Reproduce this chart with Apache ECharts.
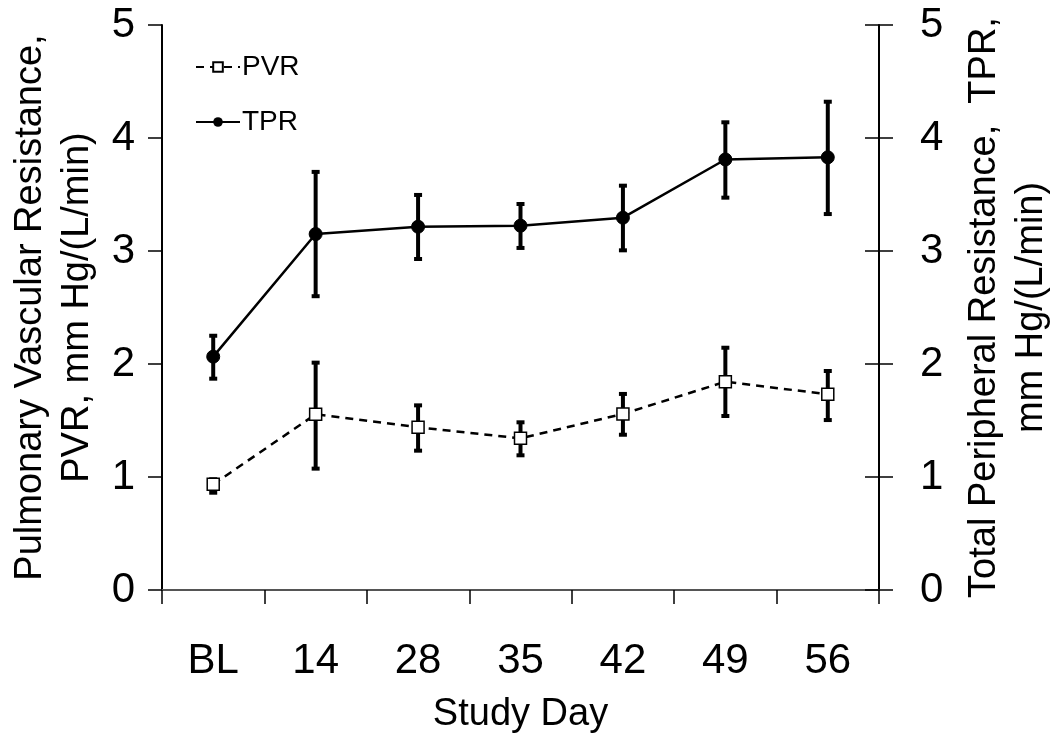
<!DOCTYPE html>
<html>
<head>
<meta charset="utf-8">
<script src="https://cdn.jsdelivr.net/npm/echarts@6/dist/echarts.min.js"></script>
<style>html,body{margin:0;padding:0;background:#fff}#c{width:1050px;height:739px}</style>
</head>
<body>
<div id="c"></div>
<script>
const categories = ['BL', '14', '28', '35', '42', '49', '56'];
const pvrMean = [0.935, 1.555, 1.44, 1.342, 1.558, 1.843, 1.732];
const pvrLow  = [0.861, 1.074, 1.233, 1.192, 1.374, 1.54, 1.504];
const pvrHigh = [0.98, 2.012, 1.634, 1.484, 1.735, 2.144, 1.938];
const tprMean = [2.065, 3.15, 3.215, 3.224, 3.295, 3.81, 3.829];
const tprLow  = [1.87, 2.60, 2.929, 3.027, 3.006, 3.472, 3.327];
const tprHigh = [2.25, 3.70, 3.496, 3.416, 3.578, 4.139, 4.321];
const yTicks = [0, 1, 2, 3, 4, 5];

const FONT = '"Liberation Sans", Arial, sans-serif';

function errData(lo, hi) { return categories.map((c, i) => [i, lo[i], hi[i]]); }
function errRender(params, api) {
  const x = api.value(0);
  const lo = api.coord([x, api.value(1)]);
  const hi = api.coord([x, api.value(2)]);
  const hw = 4;
  const st = { stroke: '#000', lineWidth: 4 };
  return {
    type: 'group',
    children: [
      { type: 'line', shape: { x1: lo[0], y1: lo[1], x2: hi[0], y2: hi[1] }, style: st },
      { type: 'line', shape: { x1: hi[0] - hw, y1: hi[1], x2: hi[0] + hw, y2: hi[1] }, style: st },
      { type: 'line', shape: { x1: lo[0] - hw, y1: lo[1], x2: lo[0] + hw, y2: lo[1] }, style: st }
    ]
  };
}

const yBase = {
  type: 'value', min: yTicks[0], max: yTicks[yTicks.length - 1], interval: 1,
  splitLine: { show: false }
};

const chart = echarts.init(document.getElementById('c'), null, { renderer: 'canvas' });
chart.setOption({
  animation: false,
  backgroundColor: '#fff',
  textStyle: { fontFamily: FONT },
  grid: { left: 162, right: 171, top: 25, bottom: 149, containLabel: false, outerBoundsMode: 'none' },
  legend: {
    data: ['PVR', 'TPR'],
    orient: 'vertical',
    left: 190, top: 47,
    itemWidth: 44, itemHeight: 12, itemGap: 25,
    textStyle: { fontSize: 28, fontFamily: FONT, color: '#000', lineHeight: 30, padding: [0, 0, 0, -3] }
  },
  xAxis: [{
    type: 'category', data: categories, boundaryGap: true,
    name: 'Study Day', nameLocation: 'middle', nameGap: 106,
    nameTextStyle: { fontSize: 38, fontFamily: FONT, color: '#000' },
    axisLine: { lineStyle: { color: '#000', width: 2 } },
    axisTick: { show: true, inside: false, length: 14, lineStyle: { color: '#000', width: 1.5 } },
    axisLabel: { fontSize: 42, fontFamily: FONT, color: '#000', margin: 50 }
  }, {
    type: 'category', data: categories, position: 'top',
    axisLine: { show: true, lineStyle: { color: '#555', width: 2 } },
    axisTick: { show: false }, axisLabel: { show: false }
  }],
  yAxis: [Object.assign({}, yBase, {
    position: 'left',
    name: 'Pulmonary Vascular Resistance,\nPVR, mm Hg/(L/min)', nameLocation: 'middle', nameGap: 60, nameRotate: 90,
    nameTextStyle: { fontSize: 38, fontFamily: FONT, color: '#000', lineHeight: 47 },
    axisLine: { show: true, lineStyle: { color: '#000', width: 2 } },
    axisTick: { show: true, inside: false, length: 14, lineStyle: { color: '#000', width: 1.5 } },
    axisLabel: { fontSize: 42, fontFamily: FONT, color: '#000', margin: 27 }
  }), Object.assign({}, yBase, {
    position: 'right',
    name: 'Total Peripheral Resistance,  TPR,\nmm Hg/(L/min)', nameLocation: 'middle', nameGap: 82, nameRotate: 90,
    nameTextStyle: { fontSize: 38, fontFamily: FONT, color: '#000', lineHeight: 47 },
    axisLine: { show: true, lineStyle: { color: '#000', width: 2 } },
    axisTick: { show: true, inside: false, length: 14, lineStyle: { color: '#000', width: 1.5 } },
    axisLabel: { fontSize: 42, fontFamily: FONT, color: '#000', margin: 41 }
  }), Object.assign({}, yBase, {
    position: 'right',
    axisLine: { show: false },
    axisTick: { show: true, inside: true, length: 14, lineStyle: { color: '#000', width: 1.5 } },
    axisLabel: { show: false }
  })],
  series: [{
    type: 'custom', name: 'PVR err', yAxisIndex: 0, z: 1,
    renderItem: errRender, data: errData(pvrLow, pvrHigh)
  }, {
    type: 'custom', name: 'TPR err', yAxisIndex: 1, z: 1,
    renderItem: errRender, data: errData(tprLow, tprHigh)
  }, {
    type: 'line', name: 'PVR', yAxisIndex: 0, z: 3, data: pvrMean,
    symbol: 'rect', symbolSize: 12,
    lineStyle: { color: '#000', width: 2.5, type: [8, 6] },
    itemStyle: { color: '#fff', borderColor: '#000', borderWidth: 1.5 }
  }, {
    type: 'line', name: 'TPR', yAxisIndex: 1, z: 3, data: tprMean,
    symbol: 'circle', symbolSize: 13,
    lineStyle: { color: '#000', width: 2.5 },
    itemStyle: { color: '#000', borderColor: '#000' }
  }]
});
</script>
</body>
</html>
